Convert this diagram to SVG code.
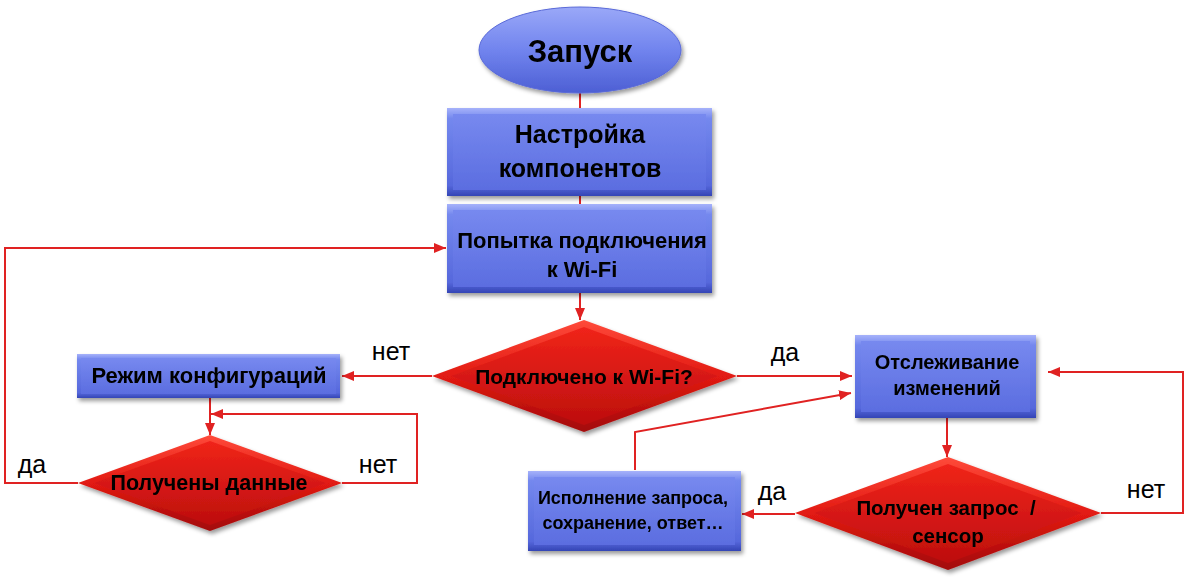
<svg xmlns="http://www.w3.org/2000/svg" width="1195" height="581" viewBox="0 0 1195 581">
<style>
.t{font-family:"Liberation Sans",Arial,sans-serif;font-weight:bold;fill:#000;text-anchor:middle}
.l{font-family:"Liberation Sans",Arial,sans-serif;font-size:25px;fill:#000;text-anchor:middle}
.c{fill:none;stroke:#e02222;stroke-width:2}
</style>
<defs>
<linearGradient id="bOut" x1="0" y1="0" x2="0" y2="1">
<stop offset="0" stop-color="#a6b2fa"/><stop offset="0.12" stop-color="#7488ee"/><stop offset="0.88" stop-color="#5668dc"/><stop offset="1" stop-color="#3445b5"/>
</linearGradient>
<linearGradient id="bIn" x1="0" y1="0" x2="0" y2="1">
<stop offset="0" stop-color="#7789ef"/><stop offset="1" stop-color="#5b6de0"/>
</linearGradient>
<linearGradient id="eG" x1="0" y1="0" x2="0" y2="1">
<stop offset="0" stop-color="#9aa8f8"/><stop offset="0.5" stop-color="#7184ee"/><stop offset="1" stop-color="#4d5fd4"/>
</linearGradient>
<linearGradient id="rOut" x1="0" y1="0" x2="0" y2="1">
<stop offset="0" stop-color="#ff4a3a"/><stop offset="0.5" stop-color="#e21a12"/><stop offset="1" stop-color="#a20a0a"/>
</linearGradient>
<linearGradient id="rIn" x1="0" y1="0" x2="0" y2="1">
<stop offset="0" stop-color="#f0241a"/><stop offset="1" stop-color="#bd0e0e"/>
</linearGradient>
<filter id="sh" x="-10%" y="-10%" width="125%" height="135%">
<feDropShadow dx="2" dy="3" stdDeviation="2" flood-color="#000" flood-opacity="0.4"/>
</filter>
<marker id="ar" viewBox="0 0 12 10" refX="12" refY="5" markerWidth="12" markerHeight="10" markerUnits="userSpaceOnUse" orient="auto">
<path d="M0,0 L12,5 L0,10 Z" fill="#e02222"/>
</marker>
</defs>

<g id="connectors">
<path class="c" d="M580,93 V108"/>
<path class="c" d="M580,196 V204"/>
<path class="c" d="M580,293 V320" marker-end="url(#ar)"/>
<path class="c" d="M432,376 H342" marker-end="url(#ar)"/>
<path class="c" d="M737,376 H852" marker-end="url(#ar)"/>
<path class="c" d="M210,398 V435" marker-end="url(#ar)"/>
<path class="c" d="M342,483 H417 V414 H211" marker-end="url(#ar)"/>
<path class="c" d="M78,483 H5 V248 H446" marker-end="url(#ar)"/>
<path class="c" d="M947,418 V457" marker-end="url(#ar)"/>
<path class="c" d="M1101,513 H1183 V372 H1048" marker-end="url(#ar)"/>
<path class="c" d="M795,514 H742" marker-end="url(#ar)"/>
<path class="c" d="M635,470 V432 L851,393" marker-end="url(#ar)"/>
</g>

<g id="start" filter="url(#sh)">
<ellipse cx="580" cy="50" rx="101" ry="43" fill="url(#eG)" stroke="#5a6ad8" stroke-width="1"/>
<text class="t" x="580" y="62" font-size="31">Запуск</text>
</g>

<g id="setup" filter="url(#sh)">
<rect x="447" y="108" width="265" height="88" fill="url(#bOut)"/>
<rect x="453" y="114" width="253" height="76" fill="url(#bIn)"/>
<text class="t" x="580" y="143" font-size="25">Настройка</text>
<text class="t" x="580" y="177" font-size="25">компонентов</text>
</g>

<g id="wifi" filter="url(#sh)">
<rect x="447" y="204" width="265" height="89" fill="url(#bOut)"/>
<rect x="453" y="210" width="253" height="77" fill="url(#bIn)"/>
<text class="t" x="582" y="248" font-size="22">Попытка подключения</text>
<text class="t" x="582" y="277" font-size="22">к Wi-Fi</text>
</g>

<g id="connected" filter="url(#sh)">
<polygon points="584,320 737,376 584,432 432,376" fill="url(#rOut)"/>
<polygon points="584,327 718,376 584,425 451,376" fill="url(#rIn)"/>
<text class="t" x="584" y="384" font-size="21">Подключено к Wi-Fi?</text>
</g>

<g id="config" filter="url(#sh)">
<rect x="77" y="354" width="263" height="44" fill="url(#bOut)"/>
<rect x="81" y="358" width="255" height="36" fill="url(#bIn)"/>
<text class="t" x="209" y="383" font-size="22">Режим конфигураций</text>
</g>

<g id="received" filter="url(#sh)">
<polygon points="210,435 342,483 210,531 78,483" fill="url(#rOut)"/>
<polygon points="210,441 326,483 210,525 94,483" fill="url(#rIn)"/>
<text class="t" x="209" y="490" font-size="21.5">Получены данные</text>
</g>

<g id="monitor" filter="url(#sh)">
<rect x="855" y="335" width="181" height="83" fill="url(#bOut)"/>
<rect x="861" y="341" width="169" height="71" fill="url(#bIn)"/>
<text class="t" x="947" y="369" font-size="20">Отслеживание</text>
<text class="t" x="947" y="395" font-size="20">изменений</text>
</g>

<g id="request" filter="url(#sh)">
<polygon points="948,457 1101,513 948,570 795,513" fill="url(#rOut)"/>
<polygon points="948,464 1082,513 948,563 814,513" fill="url(#rIn)"/>
<text class="t" x="946" y="515" font-size="20.5" style="white-space:pre">Получен запрос  /</text>
<text class="t" x="948" y="543" font-size="20.5">сенсор</text>
</g>

<g id="execute" filter="url(#sh)">
<rect x="528" y="471" width="213" height="80" fill="url(#bOut)"/>
<rect x="534" y="477" width="201" height="68" fill="url(#bIn)"/>
<text class="t" x="633" y="504" font-size="18">Исполнение запроса,</text>
<text class="t" x="633" y="529" font-size="18">сохранение, ответ…</text>
</g>

<g id="labels">
<text class="l" x="391" y="360">нет</text>
<text class="l" x="785" y="361">да</text>
<text class="l" x="32" y="473">да</text>
<text class="l" x="378" y="473">нет</text>
<text class="l" x="772" y="500">да</text>
<text class="l" x="1146" y="498">нет</text>
</g>
</svg>
